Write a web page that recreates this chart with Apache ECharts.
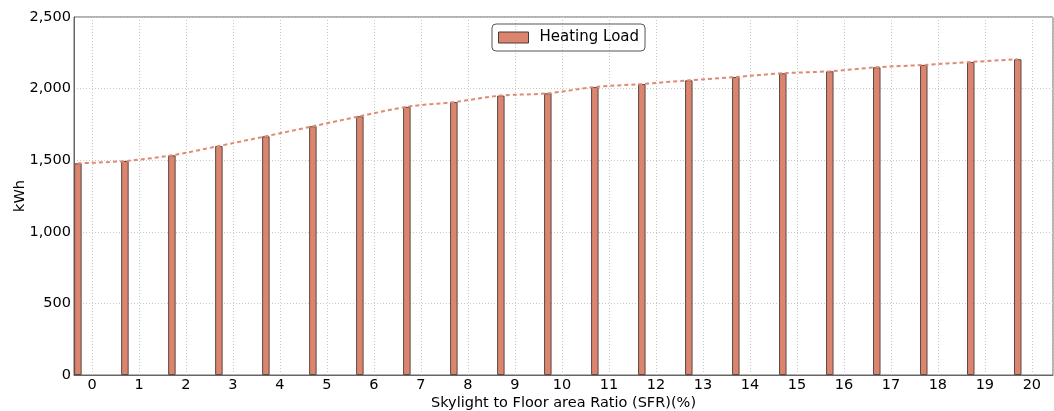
<!DOCTYPE html>
<html>
<head>
<meta charset="utf-8">
<script src="https://cdn.jsdelivr.net/npm/echarts@6/dist/echarts.min.js"></script>
<style>html,body{margin:0;padding:0;background:#fff}#c{width:1054px;height:411px}</style>
</head>
<body>
<div id="c"></div>
<script>
const sfr = [0,1,2,3,4,5,6,7,8,9,10,11,12,13,14,15,16,17,18,19,20];
const heatingLoad = [1478,1494,1534,1599,1667,1737,1807,1873,1906,1951,1967,2011,2032,2058,2081,2107,2121,2149,2165,2186,2205];
const yTicks = [0,500,1000,1500,2000,2500];
const barOffset = -0.3;

const pts = sfr.map((s,i)=>[s+barOffset, heatingLoad[i]]);
const font = 'DejaVu Sans';
const chart = echarts.init(document.getElementById('c'));
chart.setOption({
  animation:false,
  textStyle:{fontFamily:font},
  grid:{left:74,right:1,top:17,bottom:36,show:true,borderColor:'#666',borderWidth:1,
        containLabel:false,outerBoundsMode:'none'},
  legend:{
    data:[{name:'Heating Load',icon:'rect'}],left:492,top:24,
    itemWidth:30,itemHeight:11,itemGap:8,
    padding:[6,6,6,6],
    borderColor:'#555',borderWidth:1,borderRadius:4,
    itemStyle:{borderColor:'#4a3a36',borderWidth:1},
    textStyle:{fontFamily:font,fontSize:15,color:'#000',padding:[0,0,0,6]}
  },
  xAxis:{
    type:'value',min:-0.383,max:20.45,minInterval:1,maxInterval:1,
    name:'Skylight to Floor area Ratio (SFR)(%)',nameLocation:'middle',nameGap:21,
    nameMoveOverlap:false,
    nameTextStyle:{fontFamily:font,fontSize:14.5,color:'#000'},
    axisLine:{show:true,onZero:false,lineStyle:{color:'#666'}},
    axisTick:{show:false},
    axisLabel:{margin:3,fontFamily:font,fontSize:14.5,color:'#000',
      showMinLabel:false,showMaxLabel:false,
      formatter:v=>Math.abs(v-Math.round(v))<1e-6?String(Math.round(v)):''},
    splitLine:{show:true,lineStyle:{color:'#c8c8c8',type:[1,2],width:1}}
  },
  yAxis:{
    type:'value',min:yTicks[0],max:yTicks[yTicks.length-1],interval:500,
    name:'kWh',nameLocation:'middle',nameGap:46,
    nameMoveOverlap:false,
    nameTextStyle:{fontFamily:font,fontSize:14.5,color:'#000'},
    axisLine:{show:true,onZero:false,lineStyle:{color:'#666'}},
    axisTick:{show:false},
    axisLabel:{margin:3,fontFamily:font,fontSize:14.5,color:'#000',
      formatter:v=>v.toLocaleString('en-US')},
    splitLine:{show:true,lineStyle:{color:'#c8c8c8',type:[1,2],width:1}}
  },
  series:[
    {name:'Heating Load',type:'bar',data:pts,barWidth:7.5,
     itemStyle:{color:'#db846e',borderColor:'#5a4a46',borderWidth:1}},
    {name:'trend',type:'line',data:pts,smooth:0.3,symbol:'none',
     lineStyle:{color:'#e08a74',width:2,type:[4,3]},z:3}
  ]
});
</script>
</body>
</html>
